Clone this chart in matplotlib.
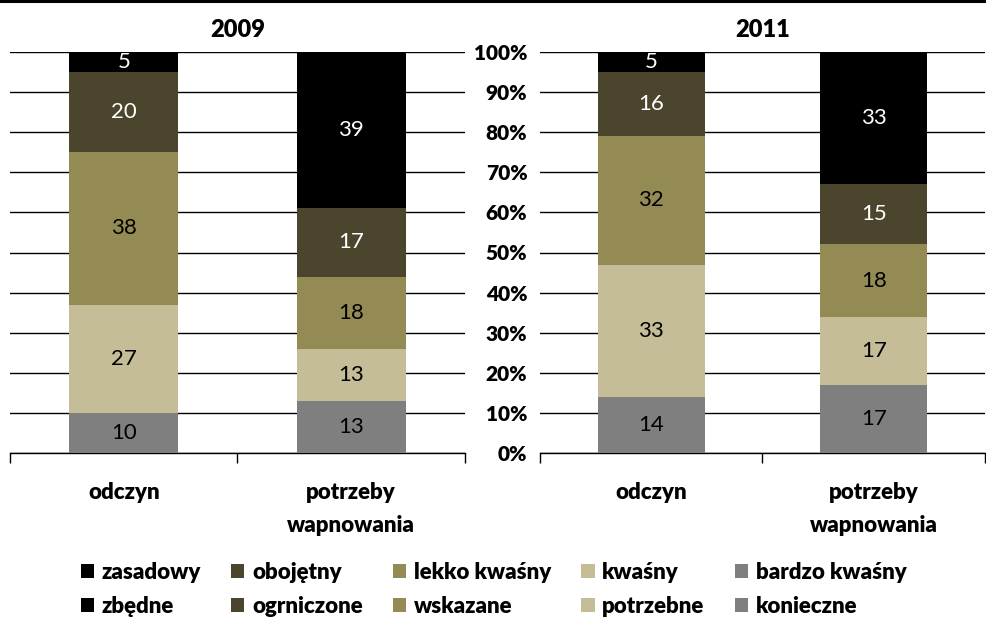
import matplotlib
matplotlib.use("Agg")
import matplotlib.pyplot as plt
from matplotlib.lines import Line2D
import numpy as np

plt.rcParams['font.family'] = ['Lato', 'DejaVu Sans']

categories = ["odczyn", "potrzeby\nwapnowania"]
years = ["2009", "2011"]
odczyn_names = ["bardzo kwaśny", "kwaśny", "lekko kwaśny", "obojętny", "zasadowy"]
potrzeby_names = ["konieczne", "potrzebne", "wskazane", "ogrniczone", "zbędne"]

odczyn_2009 = [10, 27, 38, 20, 5]
potrzeby_2009 = [13, 13, 18, 17, 39]
odczyn_2011 = [14, 33, 32, 16, 5]
potrzeby_2011 = [17, 17, 18, 15, 33]

colors = ["#7F7F7F", "#C4BD97", "#948A54", "#4B452D", "#000000"]
text_colors = ["#000000", "#000000", "#000000", "#FFFFFF", "#FFFFFF"]

data = {"2009": (odczyn_2009, potrzeby_2009), "2011": (odczyn_2011, potrzeby_2011)}

BW = 'heavy'

fig = plt.figure(figsize=(9.87, 6.21), dpi=100)
H = 621.0
W = 987.0
bottom = 1 - 453 / H
height = (453 - 52) / H
ax1 = fig.add_axes([10 / W, bottom, 455 / W, height])
ax2 = fig.add_axes([540 / W, bottom, 445 / W, height])

handles_o = []
handles_p = []
for ax, yr in zip([ax1, ax2], years):
    od, po = data[yr]
    base = [0.0, 0.0]
    for i in range(5):
        vals = [od[i], po[i]]
        bars = ax.bar([0, 1], vals, width=0.48, bottom=base, color=colors[i],
                      edgecolor='none', zorder=3)
        for j, b in enumerate(bars):
            ax.text(b.get_x() + b.get_width() / 2, base[j] + vals[j] / 2, str(vals[j]),
                    ha='center', va='center', fontsize=16, color=text_colors[i], zorder=4)
        if yr == "2009":
            handles_o.append(bars[0])
            handles_p.append(bars[1])
        base = [base[0] + vals[0], base[1] + vals[1]]
    ax.set_xlim(-0.5, 1.5)
    ax.set_ylim(0, 100)
    ax.set_yticks(np.arange(0, 101, 10))
    ax.yaxis.grid(True, color='black', linewidth=1.0, zorder=0)
    ax.set_axisbelow(True)
    for s in ['top', 'right', 'left']:
        ax.spines[s].set_visible(False)
    ax.spines['bottom'].set_linewidth(1.0)
    ax.set_xticks([0, 1])
    ax.set_xticklabels(categories, fontsize=16, fontweight=BW, linespacing=1.7, va='top')
    ax.tick_params(axis='x', which='major', length=0, pad=21)
    ax.set_xticks([-0.5, 0.5, 1.5], minor=True)
    ax.tick_params(axis='x', which='minor', length=7, width=1.0, direction='out')
    ax.tick_params(axis='y', length=0)
    ax.set_title(yr, fontsize=17, fontweight=BW, pad=11)

ax1.set_yticklabels([])
ax2.set_yticklabels([f"{v}%" for v in range(0, 101, 10)], fontsize=15, fontweight=BW)
ax2.tick_params(axis='y', pad=9)

fig.add_artist(Line2D([0, 1], [1 - 1 / H, 1 - 1 / H], color='black', linewidth=2.2,
                      transform=fig.transFigure))

# legend: columns pair odczyn (row 1) with potrzeby (row 2)
leg_handles = []
leg_labels = []
for i in range(4, -1, -1):
    leg_handles += [handles_o[i], handles_p[i]]
    leg_labels += [odczyn_names[i], potrzeby_names[i]]
fig.legend(leg_handles, leg_labels, ncol=5, loc='center', bbox_to_anchor=(0.5, 1 - 589.5 / H),
           frameon=False, prop={'size': 16, 'weight': BW}, handlelength=0.6,
           handleheight=0.6, handletextpad=0.35, columnspacing=1.35, labelspacing=0.6,
           borderaxespad=0, borderpad=0)

fig.savefig("out.png", dpi=100)
